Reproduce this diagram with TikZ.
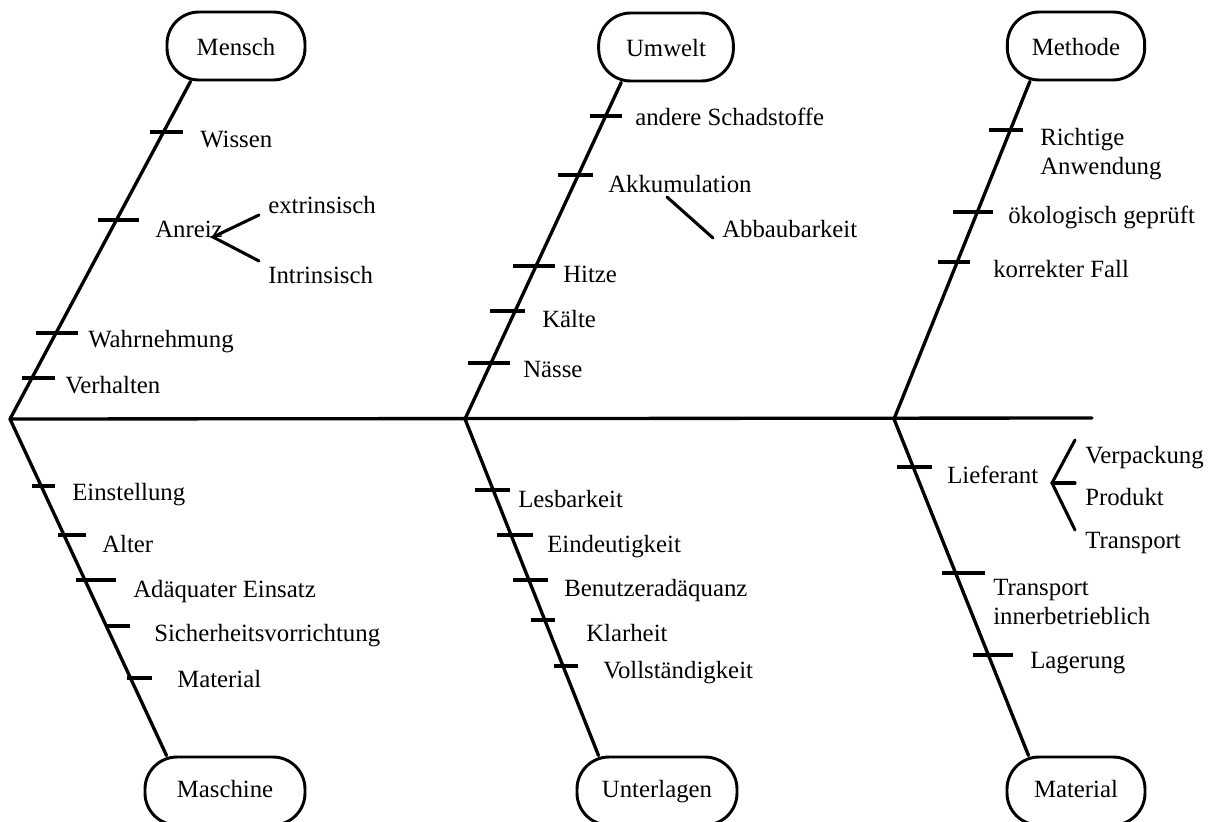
\documentclass[tikz,border=0pt]{standalone}
\usepackage{fontspec}
\setmainfont{Liberation Serif}
\usetikzlibrary{calc}
% short cross stroke on a bone: left x, right x, height
\newcommand\ribtick[3]{\draw[tickmark] (#1,#3) -- (#2,#3);}
\newcommand\twolines[2]{\begin{tabular}[t]{@{}l@{}}#1\\#2\end{tabular}}
\begin{document}
\begin{tikzpicture}[x=0.75pt,y=-0.75pt,
  bone/.style={line width=2.5pt, line cap=round},
  tickmark/.style={line width=2.5pt},
  twig/.style={line width=2.3pt, line cap=round},
  cat/.style={draw, line width=2.2pt, rounded corners=24pt, fill=white,
              minimum height=51pt, inner sep=0pt},
  cattop/.style={cat, text height=14pt, text depth=0.5pt},
  catbot/.style={cat, text height=13pt, text depth=4pt},
  lbl/.style={anchor=base west, inner sep=0pt},
  font=\fontsize{18.6}{21.75}\selectfont]
\useasboundingbox (0,0) rectangle (1212,821);
\clip (0,0) rectangle (1212,821);

% category boxes
\node[cattop, minimum width=103.5pt] (mensch)   at (236,46)  {Mensch};
\node[cattop, minimum width=101pt]   (umwelt)   at (666,47)  {Umwelt};
\node[cattop, minimum width=103pt]   (methode)  at (1076,46) {Methode};
\node[catbot, minimum width=120pt]   (maschine) at (225,791) {Maschine};
\node[catbot, minimum width=120pt]   (unterl)   at (657,791) {Unterlagen};
\node[catbot, minimum width=103.5pt] (material) at (1076,791) {Material};

% spine and joints
\coordinate (J1) at (10,419);
\coordinate (J2) at (465,419);
\coordinate (J3) at (894,419);
\coordinate (E)  at (1092,418);
\draw[bone] (J1) -- (E);

% main bones
\draw[bone] (J1) -- ($(mensch.south west)+(25,0)$);
\draw[bone] (J2) -- ($(umwelt.south west)+(24,0)$);
\draw[bone] (J3) -- ($(methode.south west)+(24,0)$);
\draw[bone] (J1) -- ($(maschine.north west)+(23,0)$);
\draw[bone] (J2) -- ($(unterl.north west)+(23,0)$);
\draw[bone] (J3) -- ($(material.north west)+(23,0)$);

% cross strokes
\ribtick{150}{183}{132} \ribtick{98}{139}{220} \ribtick{36}{78}{333} \ribtick{22}{55}{378}
\ribtick{590}{622}{116} \ribtick{558}{593}{175} \ribtick{513}{555}{266} \ribtick{490}{525}{311} \ribtick{468}{510}{363}
\ribtick{989}{1023}{130} \ribtick{953}{993}{212} \ribtick{938}{970}{262}
\ribtick{32}{55}{486} \ribtick{58}{86}{535} \ribtick{76}{116}{580} \ribtick{105}{130}{626} \ribtick{127}{152}{678}
\ribtick{475}{510}{490} \ribtick{497}{533}{535} \ribtick{513}{548}{580} \ribtick{531}{555}{620} \ribtick{554}{578}{666}
\ribtick{897}{932}{467} \ribtick{942}{985}{573} \ribtick{973}{1013}{655}

% labels: Mensch
\node[lbl] (wissen) at (200,147) {Wissen};
\node[lbl] (anreiz) at (155,237) {Anreiz};
\node[lbl] (extr)   at (268,213) {extrinsisch};
\node[lbl] (intr)   at (268,283) {Intrinsisch};
\node[lbl] (wahr)   at (88,347)  {Wahrnehmung};
\node[lbl] (verh)   at (65,393)  {Verhalten};
% labels: Umwelt
\node[lbl] (schad)  at (635,125) {andere Schadstoffe};
\node[lbl] (akku)   at (608,192) {Akkumulation};
\node[lbl] (abbau)  at (722,237) {Abbaubarkeit};
\node[lbl] (hitze)  at (563,282) {Hitze};
\node[lbl] (kaelte) at (542,327) {Kälte};
\node[lbl] (naesse) at (523,377) {Nässe};
% labels: Methode
\node[lbl] (richtig) at (1040,145) {\twolines{Richtige}{Anwendung}};
\node[lbl] (oeko)    at (1008,223) {ökologisch geprüft};
\node[lbl] (korr)    at (993,277)  {korrekter Fall};
% labels: Maschine
\node[lbl] (einst)  at (72,500)  {Einstellung};
\node[lbl] (alter)  at (102,552) {Alter};
\node[lbl] (adaeq)  at (133,597) {Adäquater Einsatz};
\node[lbl] (sicher) at (154,641) {Sicherheitsvorrichtung};
\node[lbl] (matm)   at (177,687) {Material};
% labels: Unterlagen
\node[lbl] (lesb)   at (518,507) {Lesbarkeit};
\node[lbl] (eind)   at (547,552) {Eindeutigkeit};
\node[lbl] (benu)   at (564,596) {Benutzeradäquanz};
\node[lbl] (klar)   at (586,641) {Klarheit};
\node[lbl] (voll)   at (603,678) {Vollständigkeit};
% labels: Material
\node[lbl] (liefer) at (947,483)  {Lieferant};
\node[lbl] (verp)   at (1085,463) {Verpackung};
\node[lbl] (prod)   at (1085,505) {Produkt};
\node[lbl] (trans)  at (1085,548) {Transport};
\node[lbl] (transi) at (993,595)  {\twolines{Transport}{innerbetrieblich}};
\node[lbl] (lager)  at (1030,668) {Lagerung};

% sub-branches
\coordinate (anreizfork) at (213,237);
\coordinate (extrend)    at (259,215);
\coordinate (intrend)    at (259,261);
\draw[twig] (extrend) -- (anreizfork) -- (intrend);
\coordinate (akkufork)   at (667,197);
\coordinate (abbauend)   at (713,238);
\draw[twig] (akkufork) -- (abbauend);
\coordinate (lieferfork) at (1052,483);
\coordinate (verpend)    at (1075,440);
\coordinate (prodend)    at (1075,483);
\coordinate (transend)   at (1075,530);
\draw[twig] (verpend) -- (lieferfork) -- (transend);
\draw[twig] (lieferfork) -- (prodend);
\end{tikzpicture}
\end{document}
